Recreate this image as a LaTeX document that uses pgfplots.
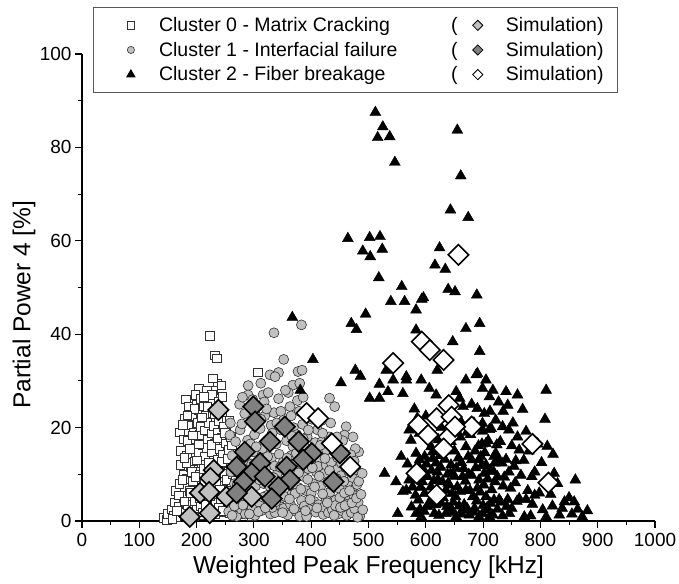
\documentclass[border=0pt]{standalone}
\usepackage{pgfplots}
\pgfplotsset{compat=1.18}
\usepackage{fontspec}
\setmainfont{Liberation Sans}
\definecolor{lgray}{RGB}{192,192,192}
\definecolor{dgray}{RGB}{128,128,128}
\definecolor{edge}{RGB}{50,50,50}
\pgfplotsset{
  legA/.style={legend image code/.code={\path (0pt,0pt) (46.7pt,0pt); \draw[##1] plot coordinates {(25pt,0pt)};}},
  legB/.style={legend image code/.code={\path (0pt,0pt) (35.4pt,0pt); \draw[##1] plot coordinates {(13.7pt,0pt)};}},
}
\begin{document}
\begin{tikzpicture}
\useasboundingbox (0,0) rectangle (679pt,583pt);
\begin{axis}[
  at={(82pt,62pt)}, anchor=south west,
  scale only axis, width=573pt, height=467pt,
  xmin=0, xmax=1000, ymin=0, ymax=100,
  axis lines*=left,
  axis line style={line width=1.1pt},
  xtick={0,100,...,1000}, ytick={0,20,...,100},
  minor xtick={50,150,...,950}, minor ytick={10,30,...,90},
  tick align=outside, xtick pos=bottom, ytick pos=left,
  major tick length=7pt, minor tick length=4pt,
  every tick/.style={line width=1.1pt, black},
  tick label style={font=\fontsize{19}{22}\selectfont},
  xticklabel style={yshift=-2pt},
  /pgf/number format/assume math mode=true,
  /pgf/number format/1000 sep={},
  label style={font=\fontsize{24.5}{28}\selectfont},
  xlabel={Weighted Peak Frequency [kHz]},
  ylabel={Partial Power 4 [\%]},
  xlabel style={at={(axis description cs:0.5,0)}, anchor=north, yshift=-31pt},
  ylabel style={at={(axis description cs:0,0.463)}, anchor=south, yshift=43pt},
  clip=false,
  legend columns=2,
  legend style={at={(axis description cs:0.019,1.1006)}, anchor=north west,
    draw=black!65, line width=1pt, font=\fontsize{19.5}{23}\selectfont,
    inner xsep=12pt, inner ysep=8pt, row sep=5pt, column sep=4pt},
]
% Cluster 0 - squares
\addplot[only marks, mark=square*, mark size=4.3pt, mark options={fill=white, draw=edge, line width=0.8pt}, forget plot] coordinates {
(223,39.6)(232,35.5)(235,34.8)(307,31.8)(204,28.4)(236,29.3)(243,29)(228,28)
(142,0.6)(148,0.3)(150,1.5)(156,2.5)(160,1.2)(162,4)(165,0.8)(164,6.5)
(168,3)(170,8)(172,12)(174,5.5)(176,1.8)(173,15)(177,10)(171,19)(178,17.5)
(180,22)(182,9)(183,14)(185,3.5)(186,20.5)(188,6.5)(184,17.2)(189,11.5)(181,26)(187,24.5)
(191,1.8)(192,15.5)(193,22.5)(194,8.5)(195,19)(196,4.2)(197,12.8)(198,27)(199,17.6)(200,24.8)(192,10.5)
(201,2.5)(202,21)(203,14.7)(204,6.8)(205,18.4)(206,10)(207,26.2)(208,3.2)(209,12.4)(210,16.2)(203,23.8)(208,20.1)
(211,7.2)(212,24.5)(213,1.2)(214,19.4)(215,13.8)(216,22.5)(217,9.4)(218,28)(219,4.6)(220,17.5)(213,11.2)(218,15.6)
(221,21)(222,2.6)(223,25.8)(224,12)(225,7.8)(226,18.8)(227,14.7)(228,23.1)(229,5.1)(230,20.4)(222,9.9)(227,27)
(231,10.8)(232,16.5)(233,1.5)(234,22.2)(235,6.5)(236,13.2)(237,19)(238,25.5)(239,8.8)(240,15.4)(233,3.9)(238,21.3)
(241,11.3)(242,4.2)(243,17.8)(244,23.4)(245,7.6)(246,14.2)(247,20.1)(248,1.8)(249,10.2)(250,16.6)
(251,5.5)(252,19)(253,12.5)(254,2.8)(255,8.6)(256,15.2)(257,21.5)(258,4.5)(259,11)(260,18)
(261,7.2)(263,13.5)(264,2)(266,9.5)(268,5.5)(270,12.5)(272,1.9)(274,7.8)(262,16.2)(267,3)
(282,1.5)(290,3.2)(297,1.0)
(158,0.5)(166,2.2)(169,5.5)(175,8.8)(179,4.2)(182,12.5)(186,1.2)(188,15.5)(190,6)(194,18.3)(196,1)(198,9.5)
(201,13)(204,16.4)(206,5)(209,22.2)(211,1.8)(214,8.4)(216,3.4)(219,24.4)(221,12.4)(224,5.4)(226,16.3)(229,10.3)
(231,22.9)(234,8.2)(236,17.7)(239,2.8)(241,6.6)(244,12.6)(246,2.1)(249,18.9)(252,8.8)(255,13.3)(257,1.6)(260,6.5)
(263,10.1)(265,4.5)(269,8.7)(271,4.3)(276,2.5)(279,5.8)(285,4)(245,26.6)(228,30.5)(213,26.6)(196,24)(184,22.6)(176,20.6)(179,13.5)
};
% Cluster 1 - circles
\addplot[only marks, mark=*, mark size=5pt, mark options={fill=lgray, draw=edge, line width=0.6pt}, forget plot] coordinates {
(383,42)(335,40.3)(352,34.6)(343,31.8)(328,31.3)(337,30.9)(377,32)(384,32.3)(368,29.1)(380,29.5)
(432,26.3)(441,24.5)(461,20.2)(458,18.4)(483,14.8)(473,7.3)(484,2.5)(316,27)(290,29)(258,18.4)
(256,2)(258,6)(260,10.5)(262,14)(264,4)(266,8)(268,17)(270,1)(259,21)(267,12)
(272,5.5)(274,11)(276,19.5)(278,2.5)(280,15)(282,8)(284,23)(286,4.5)(288,12.5)(290,27)(275,25)(285,1.5)(279,20.8)(289,17.3)
(291,6.8)(293,10)(295,21.5)(297,2.8)(299,14.8)(301,18.5)(303,7.5)(305,24.6)(307,12)(309,4)(294,16.5)(302,1.2)(306,9.2)(298,26)
(311,19.8)(313,2.2)(315,15.5)(317,8)(319,22.5)(321,11.5)(323,5.5)(325,27.5)(327,17)(329,1.5)(314,12.8)(318,25.5)(322,9.5)(326,3.8)(330,20.5)
(331,13.5)(333,6.3)(335,23.2)(337,1.8)(339,16.5)(341,10.2)(343,26.2)(345,4.6)(347,19.5)(349,8.2)(332,2.9)(336,11.8)(340,21)(344,14.3)(348,3)
(351,12.6)(353,22)(355,5.2)(357,17.2)(359,1.3)(361,9.5)(363,24.5)(365,14)(367,6)(369,20)(352,2.7)(356,10.7)(360,27.5)(364,3.5)(368,16)
(371,11)(373,2.1)(375,18.5)(377,7.2)(379,23.5)(381,13.3)(383,4.4)(385,20.7)(387,9.5)(389,15.8)(372,5.9)(376,25.8)(380,1)(384,12)(388,3.2)
(391,6.5)(393,18)(395,11.2)(397,2.5)(399,14.5)(401,21.8)(403,8)(405,4.2)(407,16.8)(409,10.5)(392,1)(396,23)(400,6)(404,12.8)(408,1.9)
(411,19.5)(413,3.5)(415,13)(417,7.5)(419,17)(421,1.4)(423,10.2)(425,5)(427,15.2)(429,8.3)(412,11.7)(418,21.5)(422,3)(426,12)(430,1.8)
(431,18)(433,6.2)(435,12.5)(437,2.4)(439,9.3)(441,15.5)(443,4.5)(445,11)(447,1.5)(449,7)(434,21)(438,16.8)(442,3.3)(446,13.6)(450,5)
(452,9.7)(454,2.2)(456,14.8)(458,6)(460,11.5)(462,1.2)(464,8.3)(466,4.3)(468,12.6)(470,1.8)(455,17.2)(463,3.6)
(472,9.3)(474,5.5)(476,2.6)(478,11)(480,7.8)(482,4)(485,1.1)(477,15.5)(481,0.8)(490,2.4)
(262,1.2)(266,3.2)(271,7.8)(277,9.6)(281,3.4)(283,13.8)(287,7.2)(292,1.5)(296,12.2)(300,4.8)(304,15.9)(308,2)
(310,8.8)(312,21.8)(316,5.1)(320,2.8)(324,13.8)(328,7.4)(332,18.8)(334,9.3)(338,4.1)(342,7)(346,11.5)(350,1.8)
(354,8.6)(358,13.5)(362,4.7)(366,18.2)(370,2.6)(374,14.5)(378,10.3)(382,6.8)(386,17.6)(390,2.2)(394,8.9)(398,4.6)
(402,11.4)(406,7.3)(410,2.8)(414,9.6)(416,16.2)(420,5.8)(424,13.4)(428,3.9)(432,10.8)(436,7.7)(440,1.2)(444,9.1)
(448,15)(451,2.9)(453,12.3)(457,8.5)(459,3.3)(465,10.7)(467,6.5)(469,14.2)(471,3.9)(475,12.8)(479,4.9)(483,8.5)
(487,5.7)(489,10.2)(473,18)(386,26.5)(365,22.5)(347,23.5)(322,24)(302,23)(280,26.5)(312,29.5)(355,28)(395,19.5)(420,18.8)(445,18)
};
% Cluster 2 - triangles
\addplot[only marks, mark=triangle*, mark size=6.3pt, mark options={fill=black, draw=black}, forget plot] coordinates {
(512,87.5)(525,84.4)(516,82.1)(537,82.3)(546,76.8)(655,83.7)(661,73.9)(643,66.6)(674,65.0)
(464,60.5)(502,60.7)(520,60.9)(490,57.8)(524,58.2)(503,56.6)(518,52.1)
(624,58.5)(616,54.8)(634,53.9)(558,50.2)(596,47.8)(639,49.6)(651,49.1)(689,48.4)(539,47)(563,47)(593,47.5)
(583,45.2)(495,44.3)(367,43.6)(470,42.3)(479,41)(694,42.3)(670,41.2)(583,40.9)(647,38.4)(694,36.3)(403,34.6)
(477,32.3)(486,31)(452,29.6)(519,29.3)(543,30.2)(534,27.7)(502,26.3)(519,26.3)(560,27.3)(566,30.2)(592,30.2)
(606,28.4)(618,27)(670,30.2)(688,31.3)(705,30.2)(653,27.7)(659,26.3)(699,28.4)(711,26.6)(717,28)(620,32.3)(531,32.3)(566,30.9)(690,31.6)(381,28)
(740,27.7)(810,28)(743,24.8)(769,23.9)(808,21.8)(702,23)(722,21.6)(699,20.9)(734,20.2)(699,19.2)(711,19.6)(705,16.6)(775,19.2)
(696,20.2)(714,19.8)(571,19.5)(574,17.3)(589,18.8)(604,18)(609,15.9)(612,14.8)(670,15.9)(750,16.1)(763,15.2)(822,14.3)
(722,14.5)(740,13.2)(757,12.9)(720,12.4)(693,13.1)(702,10.2)(557,13.8)(583,14.5)(589,13.1)(598,13.8)(612,13.4)(618,12.4)
(644,12)(653,11.3)(680,13.1)(696,13.8)(705,12)(719,13.8)(528,10.2)(548,8.4)(571,8.8)(577,7.3)(566,6.6)(560,6.3)
(594,8.4)(603,9.5)(609,7.3)(598,5.9)(612,5.2)(629,8.4)(635,6.6)(641,7.7)(646,5.9)(655,7.3)(664,9.5)(670,6.6)(682,5.2)
(690,7)(693,8.8)(705,5.2)(713,3.8)(719,4.5)(824,10.2)(861,8.8)(756,8.2)
(551,1.6)(583,1.6)(592,0.9)(603,3.1)(615,1.6)(627,3.8)(635,1.6)(644,2.7)(653,0.9)(664,2.4)(676,1.3)(685,2.7)(693,0.9)
(705,2.4)(717,1.3)(728,4.6)(743,4.6)(763,4.8)(775,4.6)(786,3.6)(804,2.4)(821,3.2)(842,4.1)(865,2.5)(882,2.2)
(699,1.6)(711,0.9)(734,1.1)(746,1.6)(772,0.9)(783,1.1)(810,0.9)(833,1.3)(873,0.9)
(575,3)(587,4.5)(596,11)(620,10.5)(625,14)(632,17.5)(638,10)(650,15)(660,18)(662,12.5)(667,3.5)(675,10)(678,18.5)
(684,21)(686,15)(698,16.5)(708,9)(725,9.5)(730,17)(735,7.5)(745,10.5)(752,21)(760,18)(780,15)(790,10.5)(798,6)(812,16)
(600,22.5)(580,24)(627,20)(640,22)(655,21.5)(665,24.5)(680,25)(727,25.5)(760,27)
(590,2.5)(620,6.5)(648,4)(658,3.2)(700,3.3)(725,2.5)(750,2.7)(790,5.5)(850,5)(855,1.5)
(578,10.5)(582,5.5)(586,12)(591,7.2)(597,2.1)(601,12.2)(606,4)(610,10.8)(614,8.6)(617,3.5)(621,8.9)(623,1.2)
(626,11.5)(630,5)(633,13.2)(637,3.1)(639,8.1)(643,10.1)(647,1.8)(650,9.6)(652,5.2)(657,13.5)(660,6.3)(663,1.5)
(666,11.2)(669,8.5)(672,2.7)(674,13.8)(677,6.5)(680,9.8)(683,1.9)(687,11.4)(689,4.3)(692,16.1)(695,6.2)(698,11.9)
(701,7.7)(703,14.6)(707,2.9)(709,17.2)(712,10.9)(715,6.7)(718,10.6)(721,8.4)(724,16.3)(727,13.2)(731,4)(733,12.4)
(737,9.4)(741,3.1)(748,7)(754,11.7)(759,4.2)(766,9.8)(771,13)(778,6.5)(785,9.5)(795,16.5)(802,12.5)(818,5.7)
(830,8)(838,2.7)(859,4.1)(568,12.2)(585,22)(622,17.4)(636,15.2)(662,21.1)(672,19)(644,17)(690,24.1)(735,23.5)(745,19.5)(712,23.5)
};
% Simulation 0 - light gray diamonds
\addplot[only marks, mark=square*, mark size=7.2pt, mark options={rotate=45, fill=lgray, draw=black, line width=1.6pt}, forget plot] coordinates {
(238,23.8)(230,10.9)(224,9.2)(206,6.0)(222,6.2)(252,5.2)(188,0.9)(223,1.7)(296,5.2)
};
% Simulation 1 - dark gray diamonds
\addplot[only marks, mark=square*, mark size=7.2pt, mark options={rotate=45, fill=dgray, draw=black, line width=1.6pt}, forget plot] coordinates {
(299,24.5)(302,21.3)(354,20.2)(328,17.0)(378,17.0)(284,14.8)(401,14.5)(450,14.5)(270,11.6)(311,12.4)
(357,11.6)(386,13.1)(296,10.2)(319,9.5)(363,8.8)(282,8.4)(343,7.3)(439,8.4)(331,4.8)(270,6.0)
};
% Simulation 2 - white diamonds
\addplot[only marks, mark=square*, mark size=7.2pt, mark options={rotate=45, fill=white, draw=black, line width=1.6pt}, forget plot] coordinates {
(593,38.4)(607,36.6)(631,34.5)(543,33.8)(640,24.8)(619,22.0)(645,22.3)(587,20.6)(604,18.4)(680,20.2)
(640,18.0)(631,15.5)(651,20.2)(584,10.2)(619,5.6)(392,23.1)(412,22.0)(436,16.6)(468,11.6)(657,57.0)
(786,16.5)(814,8.2)
};
% legend
\addlegendimage{legA, only marks, mark=square*, mark size=3.6pt, mark options={fill=white, draw=edge, line width=0.8pt}}
\addlegendentry{\makebox[292pt][l]{Cluster 0 - Matrix Cracking}(}
\addlegendimage{legB, only marks, mark=square*, mark size=3.6pt, mark options={rotate=45, fill=lgray, draw=black, line width=0.8pt}}
\addlegendentry{Simulation)}
\addlegendimage{legA, only marks, mark=*, mark size=3.6pt, mark options={fill=lgray, draw=edge, line width=0.6pt}}
\addlegendentry{\makebox[292pt][l]{Cluster 1 - Interfacial failure}(}
\addlegendimage{legB, only marks, mark=square*, mark size=3.6pt, mark options={rotate=45, fill=dgray, draw=black, line width=0.8pt}}
\addlegendentry{Simulation)}
\addlegendimage{legA, only marks, mark=triangle*, mark size=4.6pt, mark options={fill=black, draw=black}}
\addlegendentry{\makebox[292pt][l]{Cluster 2 - Fiber breakage}(}
\addlegendimage{legB, only marks, mark=square*, mark size=3.6pt, mark options={rotate=45, fill=white, draw=black, line width=0.8pt}}
\addlegendentry{Simulation)}
\end{axis}
\end{tikzpicture}
\end{document}
